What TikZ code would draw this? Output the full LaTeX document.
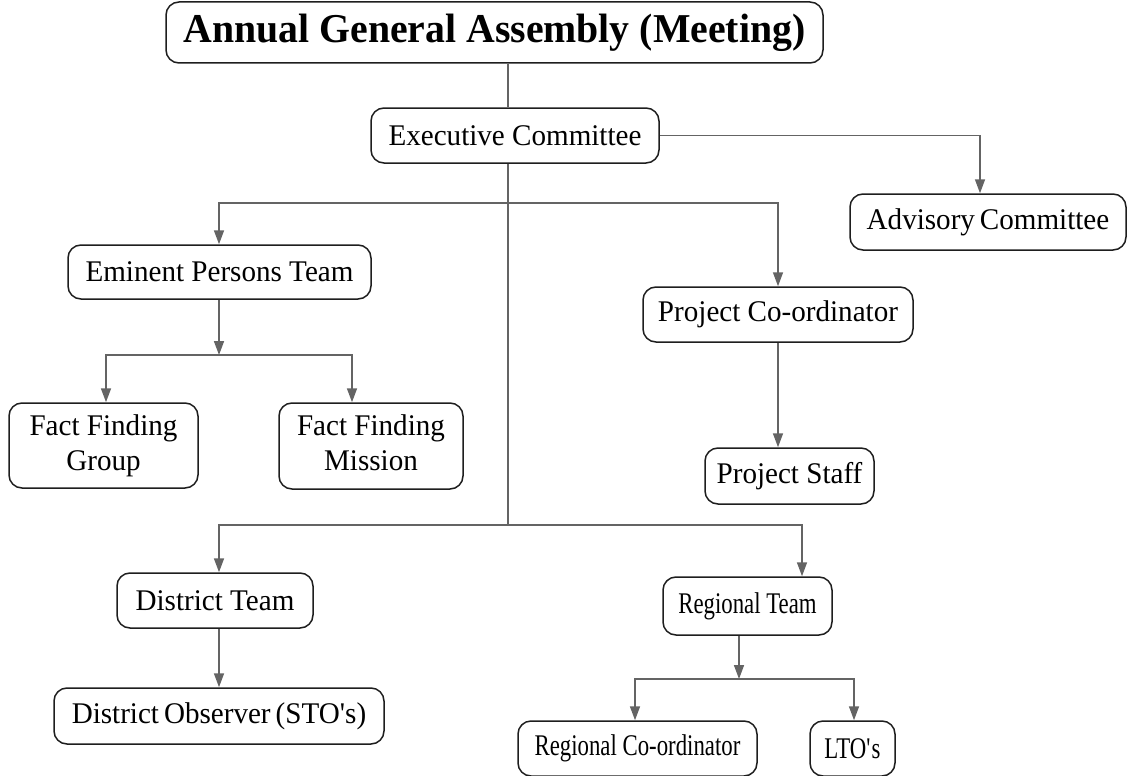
\documentclass[tikz,border=0pt]{standalone}
\usepackage{fontspec}
\setmainfont{Liberation Serif}[FakeStretch=0.97]
\newfontfamily\condfont{Liberation Serif}[FakeStretch=0.76]
\usetikzlibrary{arrows.meta}
\definecolor{linegray}{RGB}{100,100,100}
\definecolor{boxline}{RGB}{30,30,30}
\tikzset{
  box/.style={draw=boxline, line width=1.5pt, rounded corners=13pt, fill=white,
    inner sep=0pt, align=center, font=\fontsize{30}{35}\selectfont},
  cond/.style={font=\fontsize{30}{35}\selectfont\condfont},
  conn/.style={draw=linegray, line width=1.6pt},
  arr/.style={conn, -{Triangle[length=14pt,width=10pt]}},
}
\begin{document}
\begin{tikzpicture}[x=1pt,y=-1pt]
\useasboundingbox (0,0) rectangle (1130,776);
% nodes
\node[box, minimum width=657pt, minimum height=61pt, font=\fontsize{41}{45}\selectfont\bfseries] (aga) at (494.5,32.5) {Annual General Assembly (Meeting)};
\node[box, minimum width=288pt, minimum height=55pt] (exec) at (515,135.5) {Executive Committee};
\node[box, minimum width=276pt, minimum height=56pt] (adv) at (988,222) {Advisory\,Committee};
\node[box, minimum width=303pt, minimum height=54pt] (emin) at (219.5,272) {Eminent Persons Team};
\node[box, minimum width=270pt, minimum height=55pt] (proj) at (778,314.5) {Project Co-ordinator};
\node[box, minimum width=189pt, minimum height=85pt] (ffg) at (103.5,445.5) {Fact Finding\\Group};
\node[box, minimum width=184pt, minimum height=86pt] (ffm) at (371,446) {Fact Finding\\Mission\vphantom{Gp}};
\node[box, minimum width=169pt, minimum height=56pt] (staff) at (789.5,476) {Project Staff};
\node[box, minimum width=196pt, minimum height=55pt] (dist) at (215,600.5) {District Team};
\node[box, cond, minimum width=169pt, minimum height=58pt] (reg) at (747.5,606) {Regional Team};
\node[box, minimum width=330pt, minimum height=56pt] (dobs) at (219,716) {District\,Observer\,(STO\textquotesingle s)};
\node[box, cond, minimum width=239pt, minimum height=55pt] (rco) at (637.5,748.5) {Regional Co-ordinator};
\node[box, cond, minimum width=85pt, minimum height=55pt] (lto) at (852.5,748.5) {LTO\textquotesingle s};
% junction coordinates
\coordinate (t) at (508,0);
\coordinate (b1) at (508,203);
\coordinate (b2) at (508,525);
\coordinate (advx) at (980,0);
\coordinate (ffbr) at (219,355);
\coordinate (ffgx) at (106,0);
\coordinate (ffmx) at (352,0);
\coordinate (emx) at (219,0);
\coordinate (projx) at (778,0);
\coordinate (distx) at (219,0);
\coordinate (regx) at (802,0);
\coordinate (regout) at (739,679);
\coordinate (rcox) at (635,0);
\coordinate (ltox) at (854,0);
% connectors
\draw[conn] (aga.south -| t) -- (exec.north -| t);
\draw[conn] (exec.south -| t) -- (b2);
\draw[arr] (exec.east) -| (adv.north -| advx);
\draw[arr] (b1) -| (emin.north -| emx);
\draw[arr] (b1) -| (proj.north -| projx);
\draw[arr] (emin.south -| emx) -- (ffbr);
\draw[arr] (ffbr) -| (ffg.north -| ffgx);
\draw[arr] (ffbr) -| (ffm.north -| ffmx);
\draw[arr] (proj.south -| projx) -- (staff.north -| projx);
\draw[arr] (b2) -| (dist.north -| distx);
\draw[arr] (b2) -| (reg.north -| regx);
\draw[arr] (dist.south -| distx) -- (dobs.north -| distx);
\draw[arr] (reg.south -| regout) -- (regout);
\draw[arr] (regout) -| (rco.north -| rcox);
\draw[arr] (regout) -| (lto.north -| ltox);
\end{tikzpicture}
\end{document}
